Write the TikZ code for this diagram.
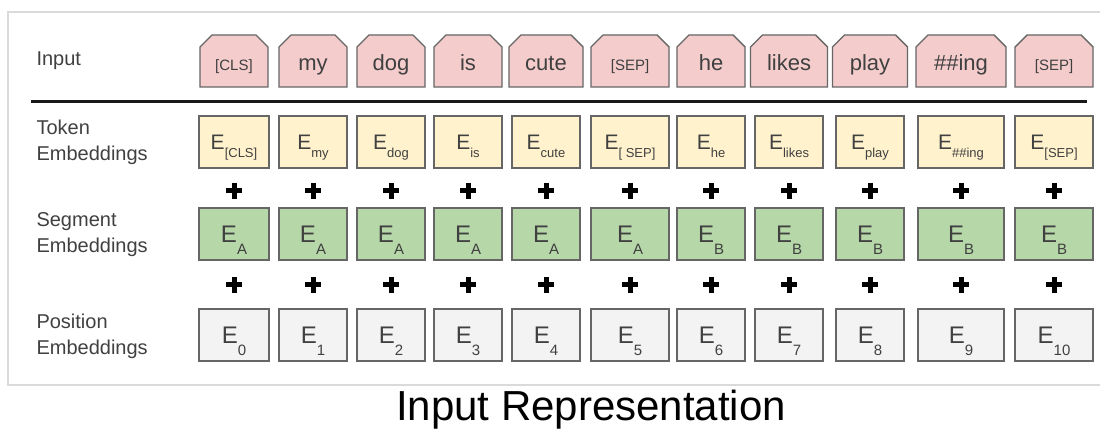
\documentclass[tikz,border=0pt]{standalone}
\usepackage{fontspec}
\setmainfont{Liberation Sans}
\usetikzlibrary{shapes.misc}

\definecolor{rosa}{HTML}{F4CCCC}
\definecolor{crema}{HTML}{FFF2CC}
\definecolor{verde}{HTML}{B6D7A8}
\definecolor{grisclaro}{HTML}{F3F3F3}
\definecolor{borde}{HTML}{666666}
\definecolor{texto}{HTML}{404040}
\definecolor{marcogris}{HTML}{DADADA}

\newcommand{\pequena}{\fontsize{15}{15}\selectfont}
\newcommand{\embtok}[1]{\fontsize{21}{21}\selectfont E\raisebox{-8pt}{\fontsize{13}{13}\selectfont #1}}
\newcommand{\embgr}[1]{\fontsize{24}{24}\selectfont E\raisebox{-12pt}{\fontsize{15}{15}\selectfont #1}}

\tikzset{
  caja/.style={draw=borde, line width=1.4pt, minimum height=52pt, inner sep=0pt, text=texto},
  entrada/.style={caja, fill=rosa, chamfered rectangle,
    chamfered rectangle corners={north west,north east},
    chamfered rectangle xsep=6pt, chamfered rectangle ysep=6pt,
    font=\fontsize{22}{22}\selectfont, text height=20pt, text depth=0pt},
  token/.style={caja, fill=crema, text height=16pt, text depth=0pt},
  segmento/.style={caja, fill=verde, text height=17pt, text depth=0pt},
  posicion/.style={caja, fill=grisclaro, text height=17pt, text depth=0pt},
  etiqueta/.style={anchor=west, align=left, text=texto, font=\fontsize{20}{26}\selectfont},
  mas/.style={line width=5pt, black}
}

\begin{document}
\begin{tikzpicture}[x=1pt, y=-1pt]
    \useasboundingbox (0,0) rectangle (1100,430);

    % Marco gris de fondo
    \draw[marcogris, line width=1.5pt] (1100,12) -- (8,12) -- (8,385) -- (1100,385);

    % Etiquetas de las filas
    \node[etiqueta] (lblEntrada) at (33,61) {Input};
    \node[etiqueta] (lblToken) at (33,142) {Token\\Embeddings};
    \node[etiqueta] (lblSegmento) at (33,235) {Segment\\Embeddings};
    \node[etiqueta] (lblPosicion) at (33,336) {Position\\Embeddings};

    % Linea separadora
    \draw[line width=3pt, black!90] (31,102) -- (1087,102);

    % Columnas: entrada, token, segmento y posicion
    \foreach \i/\x/\w/\wi/\pal/\tok/\seg in {
        0/234/70/68/{\pequena [CLS]}/[CLS]/A,
        1/313/68/68/my/my/A,
        2/391/68/68/dog/dog/A,
        3/468/68/68/is/is/A,
        4/546/68/74/cute/cute/A,
        5/630/78/78/{\pequena [SEP]}/[ SEP]/A,
        6/711/68/68/he/he/B,
        7/789/68/77/likes/likes/B,
        8/870/68/75/play/play/B,
        9/961/86/90/\#\#ing/\#\#ing/B,
        10/1054/78/78/{\pequena [SEP]}/[SEP]/B} {
      \node[entrada, minimum width=\wi pt] (ent\i) at (\x,61) {\pal};
      \node[token, minimum width=\w pt] (tok\i) at (\x,142) {\embtok{\tok}};
      \node[segmento, minimum width=\w pt] (seg\i) at (\x,234) {\embgr{\seg}};
      \node[posicion, minimum width=\w pt] (pos\i) at (\x,335) {\embgr{\i}};

      % Signos de suma
      \draw[mas] (\x-8,191) -- (\x+8,191) (\x,183) -- (\x,199);
      \draw[mas] (\x-8,285) -- (\x+8,285) (\x,277) -- (\x,293);
    }

    % Titulo
    \node[anchor=base, font=\fontsize{42}{42}\selectfont] (titulo) at (591,420) {Input Representation};

  \end{tikzpicture}
\end{document}
